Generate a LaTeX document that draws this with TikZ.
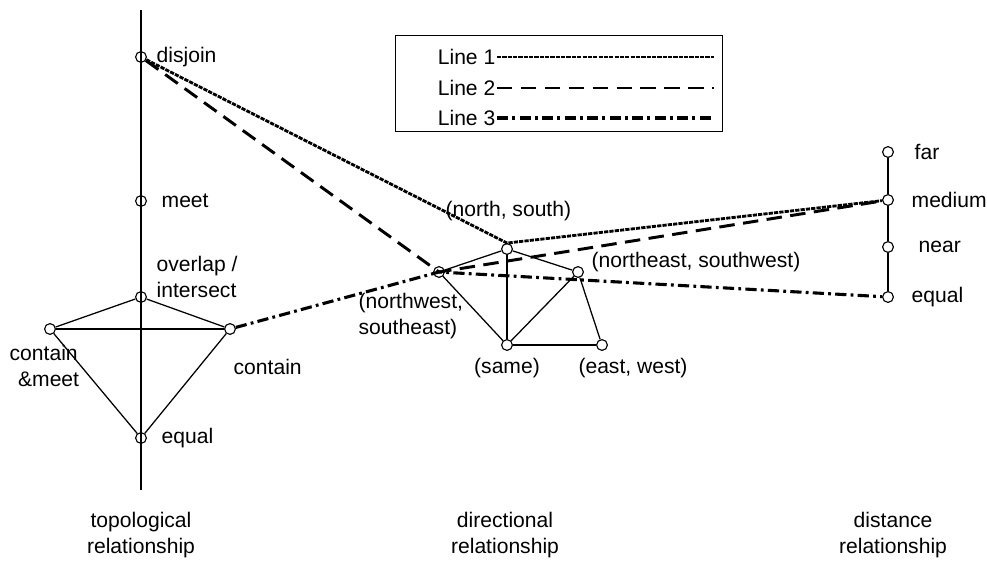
\documentclass[tikz,border=0pt]{standalone}
\usepackage{fontspec}
\setmainfont{Liberation Sans}
\usepackage{tikz}
\usetikzlibrary{positioning}

\tikzset{
  vtx/.style={circle, draw, line width=0.8pt, inner sep=0pt, minimum size=0.27cm},
  lbl/.style={anchor=west, inner sep=1pt, align=left, font=\fontsize{15}{18.5}\selectfont},
  relCaption/.style={align=center, inner sep=1pt, font=\fontsize{15}{18.5}\selectfont},
  edge/.style={line width=0.9pt},
  lineOne/.style={line width=2pt, dash pattern=on 3pt off 0.8pt},
  lineTwo/.style={line width=2.1pt, dash pattern=on 11pt off 6pt},
  lineThree/.style={line width=2.2pt, dash pattern=on 8pt off 3pt on 2pt off 3pt}
}

\begin{document}
\begin{tikzpicture}[x=0.025cm,y=-0.025cm]
\useasboundingbox (0,0) rectangle (987,560);

% =========================
% Topological relationship
% =========================
\coordinate (topoTop) at (141,10);
\coordinate (topoBot) at (141,490);
\draw[edge] (topoTop) -- (topoBot);

\node[vtx] (disjoin) at (141,57) {};
\node[vtx] (meet)    at (141,201) {};
\node[vtx] (overlap) at (141,297) {};
\node[vtx] (cmeet)   at (50,329) {};
\node[vtx] (contain) at (230,329) {};
\node[vtx] (tequal)  at (141,438) {};

\node[lbl] at (155,57)  {disjoin};
\node[lbl] at (160,201) {meet};
\node[lbl] at (155,277) {overlap /\\intersect};
\node[lbl, anchor=north west] at (8,344) {contain\\\hspace*{0.4em}\&meet};
\node[lbl] at (232,367) {contain};
\node[lbl] at (160,438) {equal};

\draw[edge] (overlap) -- (cmeet);
\draw[edge] (overlap) -- (contain);
\draw[edge] (cmeet) -- (contain);
\draw[edge] (cmeet) -- (tequal);
\draw[edge] (contain) -- (tequal);

% =========================
% Directional relationship
% =========================
\node[vtx] (ns)   at (507,249) {};
\node[vtx] (nw)   at (439,272) {};
\node[vtx] (ne)   at (578,272) {};
\node[vtx] (same) at (507,345) {};
\node[vtx] (ew)   at (602,345) {};

\node[lbl] at (444,211) {(north, south)};
\node[lbl] at (590,262) {(northeast, southwest)};
\node[lbl, anchor=north west] at (357,292) {(northwest,\\southeast)};
\node[lbl, anchor=north] at (507,357) {(same)};
\node[lbl, anchor=north] at (633,357) {(east, west)};

\draw[edge] (nw) -- (ns);
\draw[edge] (ns) -- (ne);
\draw[edge] (nw) -- (same);
\draw[edge] (ns) -- (same);
\draw[edge] (ne) -- (same);
\draw[edge] (same) -- (ew);
\draw[edge] (ne) -- (ew);

% =========================
% Distance relationship
% =========================
\node[vtx] (far)    at (888,152) {};
\node[vtx] (medium) at (888,200) {};
\node[vtx] (near)   at (888,247) {};
\node[vtx] (dequal) at (888,297) {};

\node[lbl] at (913,152) {far};
\node[lbl] at (910,200) {medium};
\node[lbl] at (917,247) {near};
\node[lbl] at (910,297) {equal};

\draw[edge] (far) -- (medium) -- (near) -- (dequal);

% paths through the three relationships
\draw[lineOne] (disjoin) -- (ns.north) -- (medium);
\draw[lineTwo] (disjoin) -- (nw.center) -- (medium);
\draw[lineThree] (contain) -- (nw.center) -- (dequal);

% legend
\node[draw, line width=1pt, minimum width=327*0.025cm, minimum height=96*0.025cm,
      anchor=north west] (legend) at (395,35) {};
\node[lbl, anchor=east] (keyOne)   at (497,57)  {Line 1};
\node[lbl, anchor=east] (keyTwo)   at (497,88)  {Line 2};
\node[lbl, anchor=east] (keyThree) at (497,118) {Line 3};
\coordinate (endOne)   at (714,57);
\coordinate (endTwo)   at (714,88);
\coordinate (endThree) at (714,118);
\draw[lineOne]   (keyOne.east) -- (endOne);
\draw[lineTwo]   (keyTwo.east) -- (endTwo);
\draw[lineThree] (keyThree.east) -- (endThree);

% captions
\node[relCaption] at (141,535) {topological\\relationship};
\node[relCaption] at (505,535) {directional\\relationship};
\node[relCaption] at (893,535) {distance\\relationship};

\end{tikzpicture}
\end{document}
